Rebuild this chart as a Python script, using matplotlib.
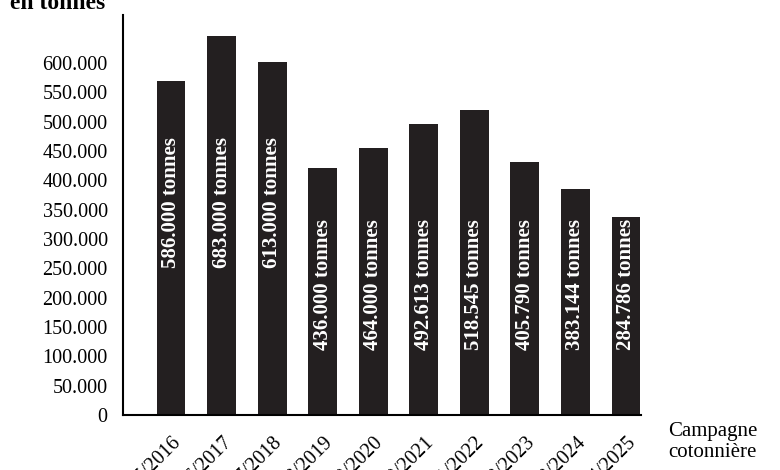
import matplotlib.pyplot as plt
import matplotlib.transforms as mtransforms
import numpy as np

campagnes = ["2015/2016", "2016/2017", "2017/2018", "2018/2019", "2019/2020",
             "2020/2021", "2021/2022", "2022/2023", "2023/2024", "2024/2025"]
# bar heights as drawn in the figure
hauteurs = [569000, 646000, 602000, 422000, 456000, 496000, 520000, 431000, 386000, 337000]
etiquettes = ["586.000 tonnes", "683.000 tonnes", "613.000 tonnes", "436.000 tonnes",
              "464.000 tonnes", "492.613 tonnes", "518.545 tonnes", "405.790 tonnes",
              "383.144 tonnes", "284.786 tonnes"]
yticks = list(range(0, 600001, 50000))

plt.rcParams['font.family'] = ['Liberation Serif', 'DejaVu Serif']

fig = plt.figure(figsize=(7.8, 4.7), dpi=100)
ax = fig.add_axes([0.1577, 0.117, 0.822 - 0.1577, 0.968 - 0.117])

x = np.arange(len(campagnes))
ax.bar(x, hauteurs, width=0.57, color='#231f20')

for xi, h, lab in zip(x, hauteurs, etiquettes):
    yc = 363000 if h > 550000 else 223000
    ax.text(xi, yc, lab, rotation=90, ha='center', va='center', color='white',
            fontsize=15, fontweight='bold')

ax.set_xlim(-0.95, 9.3)
ax.set_ylim(0, 682000)
ax.set_yticks(yticks)
ax.set_yticklabels(["0" if v == 0 else f"{v // 1000}.000" for v in yticks], fontsize=14.5)
ax.tick_params(axis='y', length=0, pad=11)

ax.set_xticks(x)
ax.set_xticklabels(campagnes, rotation=45, fontsize=14.5, ha='right', va='center',
                   rotation_mode='anchor')
ax.tick_params(axis='x', length=0, pad=18)
off = mtransforms.ScaledTranslation(7 / 100, 0, fig.dpi_scale_trans)
for t in ax.get_xticklabels():
    t.set_transform(t.get_transform() + off)

for s in ['top', 'right']:
    ax.spines[s].set_visible(False)
for s in ['left', 'bottom']:
    ax.spines[s].set_linewidth(1.5)

fig.text(10 / 780, 1 - 9 / 470, "en tonnes", fontsize=17, fontweight='bold',
         ha='left', va='baseline')
fig.text(668 / 780, 1 - 442 / 470, "Campagne\ncotonnière", fontsize=15,
         ha='left', va='center', linespacing=1.2)

fig.savefig("out.png", dpi=100)
